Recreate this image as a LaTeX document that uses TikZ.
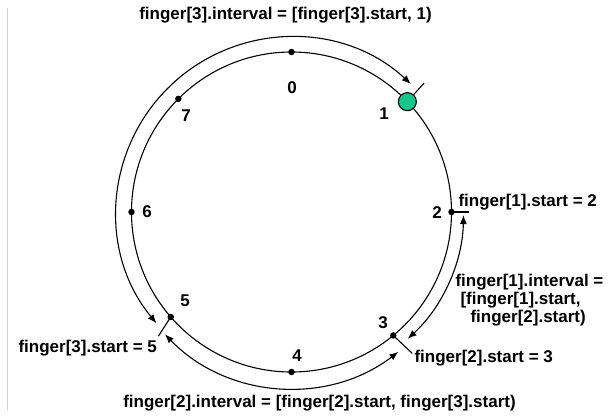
\documentclass[tikz,border=0pt]{standalone}
\usepackage{fontspec}
\setmainfont{Liberation Sans}
\usetikzlibrary{arrows.meta}
\definecolor{nodegreen}{RGB}{20,200,140}

\begin{document}
\begin{tikzpicture}[x=1pt, y=1pt, line width=1.1pt, font=\bfseries\fontsize{17}{18}\selectfont]
        \tikzstyle{dot} = [circle, fill=black, inner sep=0pt, minimum size=6.5pt]
        \tikzstyle{num} = [inner sep=0pt]
        \tikzstyle{note} = [inner sep=0pt, anchor=west, align=left]
        \tikzstyle{line} = [draw, {Latex[length=9pt, width=7pt]}-{Latex[length=9pt, width=7pt]}]

        \useasboundingbox (-291.5,-204) rectangle (317.5,212);
        \draw [gray!35, line width=1.5pt] (-284,-198) -- (-284,204);

        % ring with the 8 identifiers
        \draw (0,0) circle (160);
        \foreach \a/\n in {90/0, 0/2, -50.5/3, -90/4, 221/5, 180/6, 135/7}
            \node [dot] (p\n) at (\a:160) {};
        \foreach \n/\x/\y in {0/0.5/124, 1/92.5/98, 2/145.5/-1, 3/91.5/-111, 4/5.5/-144, 5/-106.5/-89, 6/-144.5/0, 7/-105.5/96}
            \node [num] (l\n) at (\x,\y) {\n};

        % finger intervals
        \coordinate (a3) at (219.5:175);
        \coordinate (a2) at (224:176);
        \coordinate (a1) at (-1:172);
        \path [line] (a3) arc [start angle=219.5, end angle=47, radius=175];
        \path [line] (a2) arc [start angle=224, end angle=307.4, radius=176];
        \path [line] (a1) arc [start angle=-1, end angle=-47.5, radius=172];

        % start marks
        \coordinate (s1) at (44.2:185);
        \coordinate (s2) at (0:177);
        \coordinate (s3) at (-49.5:186);
        \coordinate (s5) at (223:182);
        \node [circle, draw, fill=nodegreen, minimum size=18pt, inner sep=0pt] (p1) at (43.6:160) {};
        \draw (p1) -- (s1);
        \draw (p2.center) -- (s2);
        \draw (p3.center) -- (s3);
        \draw (p5.center) -- (s5);

        \node (top) at (-6,197) {finger[3].interval = [finger[3].start, 1)};
        \node (bot) at (28,-191) {finger[2].interval = [finger[2].start, finger[3].start)};
        \node [note] (f1s) at (166.5,10) {finger[1].start = 2};
        \node [note, text depth=0pt] (f1i) at (163.5,-86) {finger[1].interval =\\\hspace*{5pt}[finger[1].start,\\\hspace*{15pt}finger[2].start)};
        \node [note] (f2s) at (122.5,-146) {finger[2].start = 3};
        \node [note] (f3s) at (-273.5,-136) {finger[3].start = 5};
    \end{tikzpicture}
\end{document}
